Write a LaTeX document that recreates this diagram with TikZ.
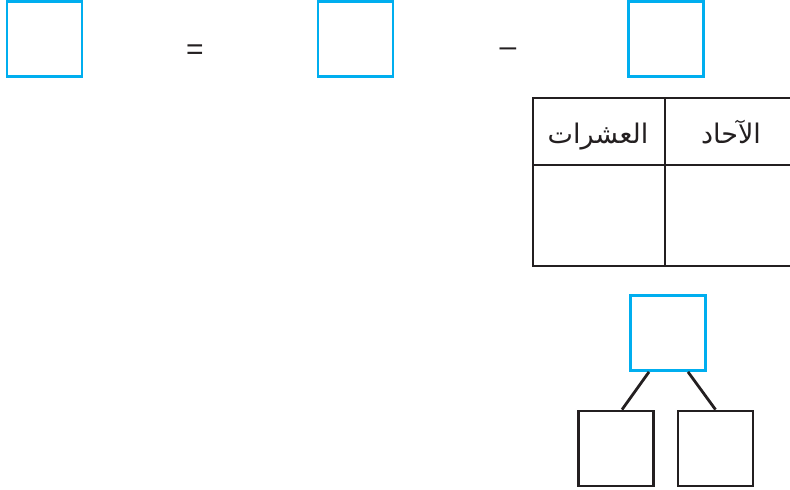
\documentclass[tikz,border=0pt]{standalone}
\usepackage{fontspec}
\setmainfont{Liberation Sans}
\newfontfamily\arabicfont[Script=Arabic]{DejaVu Sans}
\TeXXeTstate=1
\definecolor{boxblue}{RGB}{0,174,239}
\definecolor{inkblack}{RGB}{35,31,32}
\begin{document}
\begin{tikzpicture}[x=1pt,y=-1pt,
  bluebox/.style={draw=boxblue,line width=2.8pt,minimum width=75pt,minimum height=75pt,inner sep=0pt},
  blackbox/.style={draw=inkblack,line width=2.8pt,minimum width=75pt,minimum height=75pt,inner sep=0pt},
  tline/.style={draw=inkblack,line width=2.8pt},
  sym/.style={text=inkblack,font=\fontsize{30}{34}\selectfont,inner sep=0pt},
  head/.style={text=inkblack,font=\arabicfont\fontsize{27}{30}\selectfont,inner sep=0pt,anchor=base}]
\useasboundingbox (0,0) rectangle (790,490);
\clip (0,0) rectangle (790,490);
% equation row
\node[bluebox] (b1) at (44.5,39) {};
\node[sym] (eq) at (195,52) {=};
\node[bluebox] (b2) at (355.5,39) {};
\node[sym] (mn) at (508,52) {–};
\node[bluebox] (b3) at (666,39) {};
% table
\coordinate (tl) at (533,98);
\coordinate (tr) at (792,98);
\coordinate (ml) at (533,165);
\coordinate (mr) at (792,165);
\coordinate (bl) at (533,266);
\coordinate (br) at (792,266);
\coordinate (mt) at (665,98);
\coordinate (mb) at (665,266);
\draw[tline] (tr) -- (tl) -- (bl) -- (br);
\draw[tline] (ml) -- (mr);
\draw[tline] (mt) -- (mb);
\node[head] (tens) at (598,143) {\beginR العشرات\endR};
\node[head] (ones) at (731,143) {\beginR الآحاد\endR};
% number bond
\node[bluebox] (top) at (668,333) {};
\node[blackbox] (left) at (616,448.5) {};
\node[blackbox] (right) at (715.5,448.5) {};
\draw[tline] ([xshift=-19pt]top.south) -- ([xshift=6pt]left.north);
\draw[tline] ([xshift=20pt]top.south) -- ([xshift=0pt]right.north);
\end{tikzpicture}
\end{document}
